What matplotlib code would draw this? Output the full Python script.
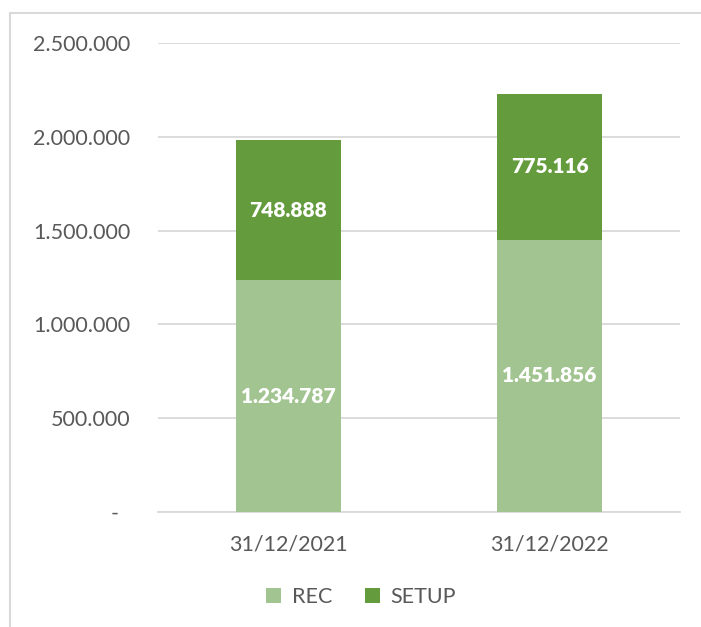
import matplotlib
matplotlib.use("Agg")
import matplotlib.pyplot as plt
from matplotlib.lines import Line2D
from matplotlib.ticker import FuncFormatter, MultipleLocator
import numpy as np

plt.rcParams['font.family'] = ['Lato', 'DejaVu Sans']

categories = ['31/12/2021', '31/12/2022']
rec = [1234787, 1451856]
setup = [748888, 775116]
series_names = ['REC', 'SETUP']

col_rec = '#A2C491'
col_setup = '#639B3D'
txt_col = '#595959'
grid_col = '#D9D9D9'


def fmt_num(v):
    return '{:,.0f}'.format(v).replace(',', '.')


def ytick_fmt(v, pos):
    if v == 0:
        return '-  '
    return fmt_num(v)


fig = plt.figure(figsize=(7.01, 6.27), dpi=100)
ax = fig.add_axes([158 / 701, 1 - 512 / 627, 522 / 701, 469 / 627])

x = np.arange(len(categories))
w = 0.4
b1 = ax.bar(x, rec, w, color=col_rec, label=series_names[0], zorder=3)
b2 = ax.bar(x, setup, w, bottom=rec, color=col_setup, label=series_names[1], zorder=3)

for i in range(len(categories)):
    ax.text(x[i], rec[i] / 2, fmt_num(rec[i]), ha='center', va='center',
            color='white', fontsize=15, fontweight='heavy', zorder=4)
    ax.text(x[i], rec[i] + setup[i] / 2, fmt_num(setup[i]), ha='center', va='center',
            color='white', fontsize=15, fontweight='heavy', zorder=4)

ax.set_xlim(-0.5, 1.5)
ax.set_ylim(0, 2500000)
ax.yaxis.set_major_locator(MultipleLocator(500000))
ax.yaxis.set_major_formatter(FuncFormatter(ytick_fmt))
ax.set_xticks(x)
ax.set_xticklabels(categories)
ax.grid(axis='y', color=grid_col, linewidth=1.3, zorder=0)
for s in ['top', 'right', 'left']:
    ax.spines[s].set_visible(False)
ax.spines['bottom'].set_color(grid_col)
ax.spines['bottom'].set_linewidth(1.3)
ax.tick_params(axis='both', length=0, labelsize=15.5, colors=txt_col)
ax.tick_params(axis='y', pad=20)
ax.tick_params(axis='x', pad=16)

leg = fig.legend(handles=[b1, b2], loc='center', bbox_to_anchor=(361 / 701, 1 - 597 / 627),
                 ncol=2, frameon=False, fontsize=15.5, handlelength=0.7, handleheight=0.7,
                 handletextpad=0.5, columnspacing=1.5)
for t in leg.get_texts():
    t.set_color(txt_col)

# chart border (extends past the image on the right and bottom)
fig.add_artist(Line2D([10 / 701, 10 / 701], [0, 1 - 13 / 627], color=grid_col,
                      linewidth=1.5, transform=fig.transFigure))
fig.add_artist(Line2D([10 / 701, 1], [1 - 13 / 627, 1 - 13 / 627], color=grid_col,
                      linewidth=1.5, transform=fig.transFigure))

fig.savefig('out.png', dpi=100)
